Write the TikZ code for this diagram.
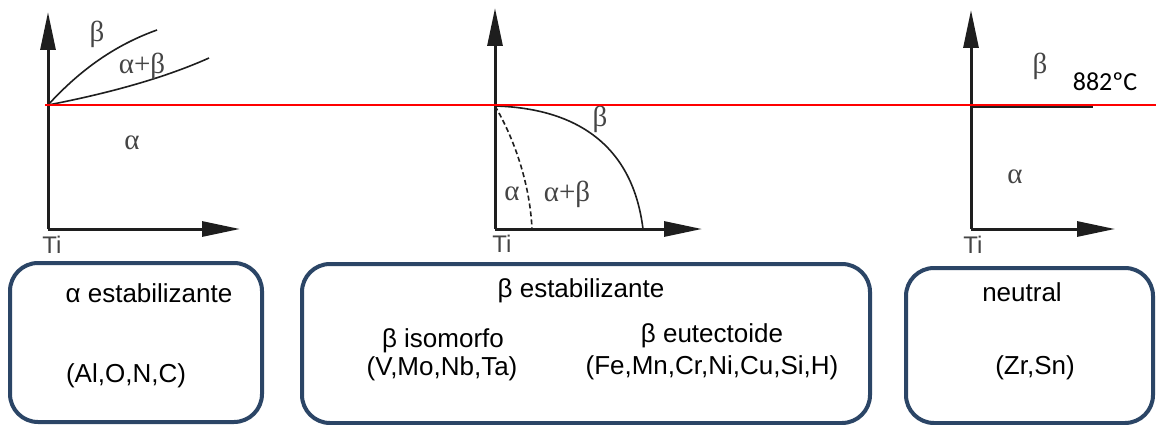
\documentclass[tikz,border=0pt]{standalone}
\usepackage{fontspec}
\setmainfont{Liberation Sans}
\newfontfamily\grkfont{Liberation Serif}
\newfontfamily\calibfont{Carlito}
\usetikzlibrary{arrows.meta}
\definecolor{boxblue}{HTML}{2B4566}
\definecolor{plotgray}{HTML}{1E1E1E}
\definecolor{labgray}{HTML}{454545}
\begin{document}
\begin{tikzpicture}[x=1pt,y=-1pt,
  axis/.style={draw=plotgray, line width=3pt, -{Triangle[length=38pt,width=15pt]}},
  curve/.style={draw=plotgray, line width=1.6pt},
  grk/.style={text=labgray, font=\grkfont\fontsize{29}{32}\selectfont, inner sep=0pt},
  tilab/.style={text=labgray, font=\fontsize{24}{27}\selectfont, inner sep=0pt},
  catbox/.style={draw=boxblue, line width=4pt, rounded corners=28pt},
  boxtxt/.style={font=\fontsize{26}{30}\selectfont, inner sep=0pt, anchor=base}
]
\useasboundingbox[fill=white] (0,0) rectangle (1156,425);

% ---------- plot 1 (alpha stabilising)
\coordinate (o1) at (48,229);
\coordinate (y1) at (48,12);
\coordinate (x1) at (240,229);
\coordinate (t1) at (48,105);
\coordinate (c1a) at (157,30);
\coordinate (c1b) at (209,58);
\draw[axis] (o1) -- (y1);
\draw[axis] (o1) -- (x1);
\draw[curve] (t1) .. controls (80,70) and (115,45) .. (c1a);
\draw[curve] (t1) .. controls (100,95) and (160,80) .. (c1b);
\node[grk] (b1) at (97,34) {β};
\node[grk] (ab1) at (142,66) {α+β};
\node[grk] (a1) at (132,143) {α};
\node[tilab] (ti1) at (52,245) {Ti};

% ---------- plot 2 (beta stabilising)
\coordinate (o2) at (495,229);
\coordinate (y2) at (495,8);
\coordinate (x2) at (702,229);
\coordinate (t2) at (495,106);
\coordinate (c2a) at (643,229);
\coordinate (c2b) at (532,229);
\draw[axis] (o2) -- (y2);
\draw[axis] (o2) -- (x2);
\draw[curve] (t2) .. controls (570,108) and (632,140) .. (c2a);
\draw[curve, dash pattern=on 5pt off 3pt] (t2) .. controls (515,140) and (530,185) .. (c2b);
\node[grk] (b2) at (600,119) {β};
\node[grk] (a2) at (512,194) {α};
\node[grk] (ab2) at (567,194) {α+β};
\node[tilab] (ti2) at (502,244) {Ti};

% ---------- plot 3 (neutral)
\coordinate (o3) at (971,229);
\coordinate (y3) at (971,10);
\coordinate (x3) at (1115,229);
\coordinate (t3) at (971,107);
\coordinate (e3) at (1093,107);
\draw[axis] (o3) -- (y3);
\draw[axis] (o3) -- (x3);
\draw[draw=plotgray, line width=3pt] (t3) -- (e3);
\node[grk] (b3) at (1040,66) {β};
\node[grk] (a3) at (1015,177) {α};
\node[tilab] (ti3) at (973,245) {Ti};
\node[font=\calibfont\fontsize{26}{30}\selectfont, inner sep=0pt] (temp) at (1105,82) {882ºC};

% ---------- red 882 C line
\coordinate (r0) at (45,105);
\coordinate (r1) at (1052,105);
\coordinate (r2) at (1156,105);
\draw[red, line width=2.5pt] (r0) -- (r1);
\draw[red, line width=1.2pt] (r1) -- (r2);

% ---------- category boxes
\node[catbox, minimum width=252pt, minimum height=159pt, inner sep=0pt] (box1) at (136,342.5) {};
\node[catbox, minimum width=568pt, minimum height=159pt, inner sep=0pt] (box2) at (586,343.5) {};
\node[catbox, minimum width=247pt, minimum height=155pt, inner sep=0pt] (box3) at (1029.5,345.5) {};

\node[boxtxt] (t1a) at (149,302) {α estabilizante};
\node[boxtxt] (t1b) at (126,382) {(Al,O,N,C)};

\node[boxtxt] (t2a) at (581,297) {β estabilizante};
\node[boxtxt] (t2b) at (443,347) {β isomorfo};
\node[boxtxt] (t2c) at (442,375) {(V,Mo,Nb,Ta)};
\node[boxtxt] (t2d) at (712,342) {β eutectoide};
\node[boxtxt] (t2e) at (712,374) {(Fe,Mn,Cr,Ni,Cu,Si,H)};

\node[boxtxt] (t3a) at (1022,301) {neutral};
\node[boxtxt] (t3b) at (1035,374) {(Zr,Sn)};
\end{tikzpicture}
\end{document}
